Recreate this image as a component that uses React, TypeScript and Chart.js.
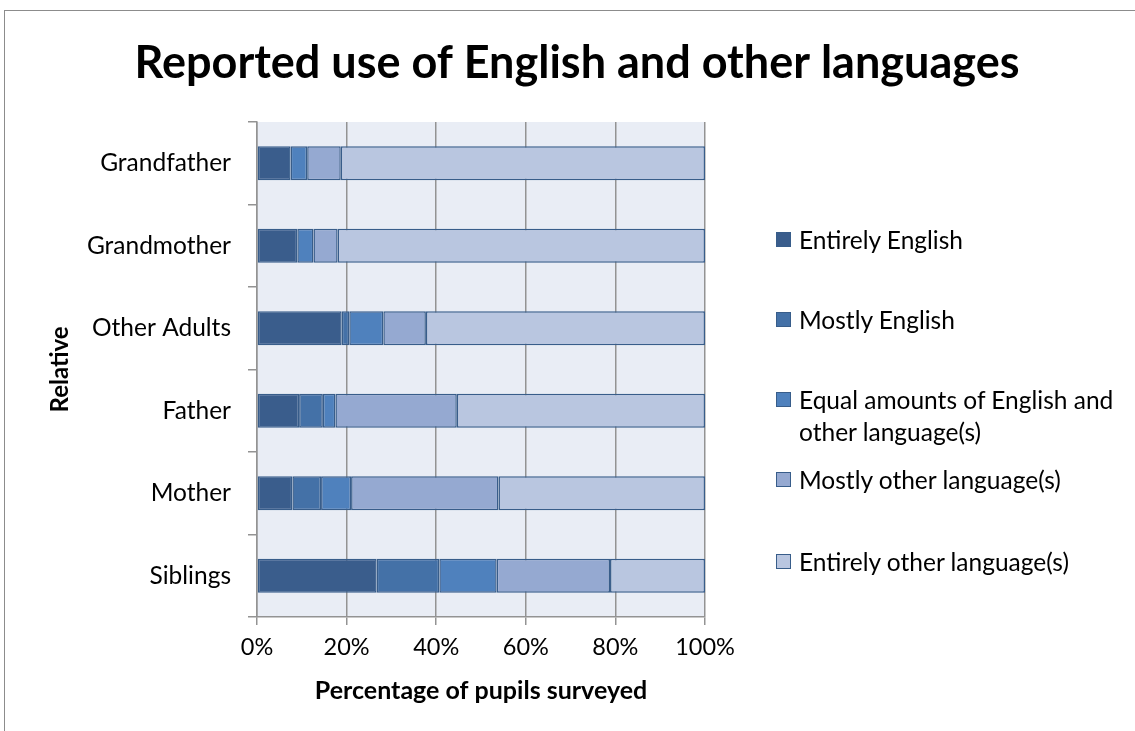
import React, { useEffect, useRef } from "react";
import { Chart, registerables } from "chart.js";

Chart.register(...registerables);

const chartTitle = "Reported use of English and other languages";
const categories = ["Grandfather", "Grandmother", "Other Adults", "Father", "Mother", "Siblings"];
const seriesNames = [
  "Entirely English",
  "Mostly English",
  "Equal amounts of English and other language(s)",
  "Mostly other language(s)",
  "Entirely other language(s)",
];
const entirelyEnglish = [7.5, 9.0, 18.9, 9.4, 7.9, 26.7];
const mostlyEnglish = [0, 0, 1.7, 5.3, 6.4, 14.0];
const equalAmounts = [3.7, 3.6, 7.6, 2.8, 6.7, 12.8];
const mostlyOther = [7.5, 5.4, 9.5, 27.1, 32.9, 25.3];
const entirelyOther = [81.3, 82.0, 62.3, 55.4, 46.1, 21.2];
const xTicks = [0, 20, 40, 60, 80, 100];

const seriesColors = ["#3A5D8C", "#4471A7", "#4F81BD", "#95A9D1", "#B9C6E0"];
const borderCol = "#385D8A";
const FONT = "Lato, 'Open Sans', sans-serif";

const bgPlugin = {
  id: "plotBg",
  beforeDraw(chart: any) {
    const { ctx, chartArea } = chart;
    ctx.save();
    ctx.fillStyle = "#E9EDF5";
    ctx.fillRect(chartArea.left, chartArea.top, chartArea.right - chartArea.left, chartArea.bottom - chartArea.top);
    ctx.restore();
  },
};

const titlePlugin = {
  id: "centerTitle",
  afterDraw(chart: any) {
    const { ctx } = chart;
    ctx.save();
    ctx.fillStyle = "#000";
    ctx.font = `bold 45px ${FONT}`;
    ctx.textAlign = "center";
    ctx.textBaseline = "middle";
    ctx.fillText(chartTitle, 577, 63);
    ctx.restore();
  },
};

export default function App() {
  const ref = useRef<HTMLCanvasElement | null>(null);

  useEffect(() => {
    if (!ref.current) return;
    const values = [entirelyEnglish, mostlyEnglish, equalAmounts, mostlyOther, entirelyOther];
    const chart = new Chart(ref.current, {
      type: "bar",
      data: {
        labels: categories,
        datasets: values.map((v, i) => ({
          label: seriesNames[i],
          data: v,
          backgroundColor: seriesColors[i],
          borderColor: borderCol,
          borderWidth: 1.5,
          borderSkipped: false,
          categoryPercentage: 1,
          barPercentage: 0.41,
        })),
      },
      plugins: [bgPlugin, titlePlugin],
      options: {
        indexAxis: "y",
        animation: false,
        responsive: false,
        devicePixelRatio: 1,
        layout: { padding: { left: 0, right: 430, top: 122, bottom: 0 } },
        plugins: {
          legend: { display: false },
          tooltip: { enabled: false },
          title: { display: false },
        },
        scales: {
          x: {
            stacked: true,
            min: 0,
            max: 100,
            afterBuildTicks(scale: any) {
              scale.ticks = xTicks.map((v) => ({ value: v }));
            },
            afterFit(scale: any) {
              scale.height = 114;
            },
            grid: { color: "#939393", lineWidth: 1.5, tickLength: 8 },
            border: { color: "#939393", width: 1.5 },
            ticks: {
              color: "#000",
              padding: 8,
              font: { family: FONT, size: 23.5 },
              callback: (v: any) => v + "%",
            },
            title: {
              display: true,
              text: "Percentage of pupils surveyed",
              color: "#000",
              font: { family: FONT, size: 25, weight: "bold", lineHeight: 1.2 },
              padding: { bottom: 25 },
            },
          },
          y: {
            stacked: true,
            offset: true,
            afterFit(scale: any) {
              scale.width = 257;
            },
            grid: { drawOnChartArea: false, offset: true, color: "#939393", lineWidth: 1.5, tickLength: 9 },
            border: { color: "#939393", width: 1.5 },
            ticks: { color: "#000", padding: 17, font: { family: FONT, size: 24.5 } },
            title: {
              display: true,
              text: "Relative",
              color: "#000",
              font: { family: FONT, size: 24, weight: "bold", lineHeight: 1.2 },
              padding: { top: 46 },
            },
          },
        },
      } as any,
    });
    return () => chart.destroy();
  }, []);

  const legendTops = [240, 320, 400, 480, 562];

  return (
    <div style={{ position: "fixed", left: 0, top: 0, width: 1135, height: 731, overflow: "hidden", background: "#fff" }}>
      <div style={{ position: "absolute", left: 4, top: 10, width: 1300, height: 900, border: "1.5px solid #8c8c8c" }} />
      <canvas ref={ref} width={1135} height={731} style={{ position: "absolute", left: 0, top: 0 }} />
      {seriesNames.map((name, i) => (
        <div
          key={name}
          style={{
            position: "absolute",
            left: 776,
            top: legendTops[i] - 16,
            width: 355,
            display: "flex",
            alignItems: "flex-start",
            fontFamily: FONT,
            fontSize: 24.5,
            lineHeight: "32px",
            color: "#000",
          }}
        >
          <span
            style={{
              display: "inline-block",
              width: 13,
              height: 13,
              marginTop: 8,
              marginRight: 8,
              flex: "none",
              background: seriesColors[i],
              border: `1.5px solid ${borderCol}`,
            }}
          />
          <span style={{ width: 330 }}>{name}</span>
        </div>
      ))}
    </div>
  );
}
